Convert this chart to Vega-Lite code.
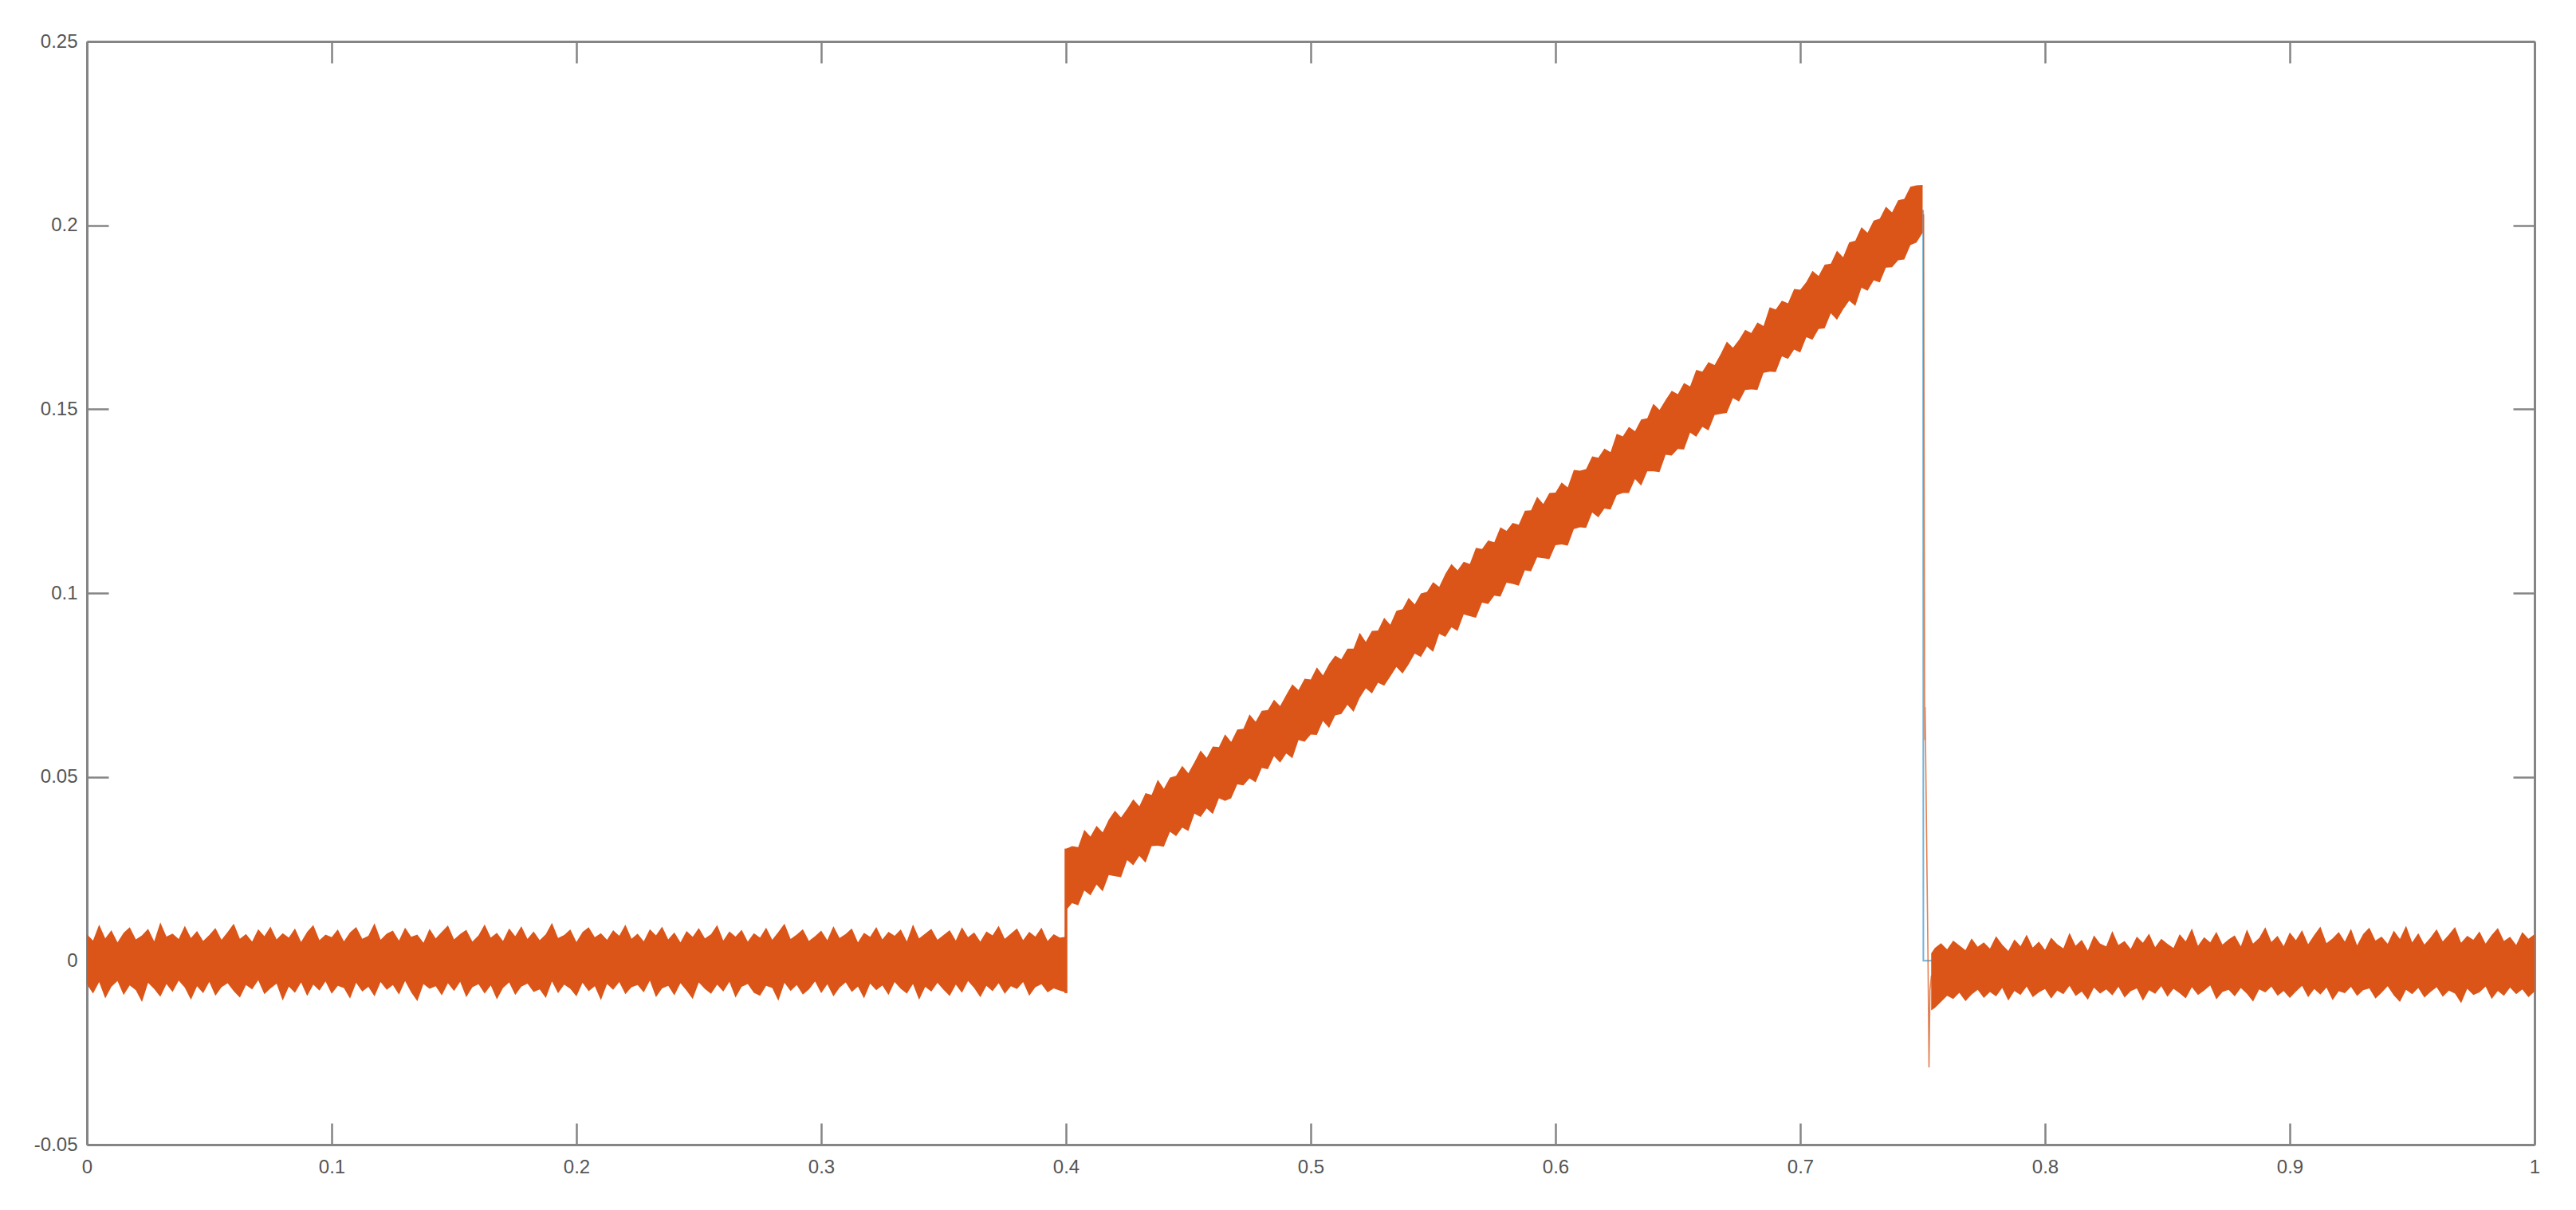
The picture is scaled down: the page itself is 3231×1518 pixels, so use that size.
{
  "$schema": "https://vega.github.io/schema/vega-lite/v6.json",
  "width": 3070,
  "height": 1384,
  "autosize": "none",
  "padding": {"left": 109, "top": 52, "right": 52, "bottom": 82},
  "background": "white",
  "config": {"view": {"stroke": null}},
  "datasets": {
    "clean": [
      {"x": 0, "y": 0}, {"x": 0.3999, "y": 0}, {"x": 0.4001, "y": 0.022}, {"x": 0.425, "y": 0.0334}, {"x": 0.45, "y": 0.045}, {"x": 0.475, "y": 0.0569}, {"x": 0.5, "y": 0.069}, {"x": 0.525, "y": 0.0814}, {"x": 0.55, "y": 0.094}, {"x": 0.575, "y": 0.1069}, {"x": 0.6, "y": 0.12}, {"x": 0.625, "y": 0.1334}, {"x": 0.65, "y": 0.147}, {"x": 0.675, "y": 0.1609}, {"x": 0.7, "y": 0.175}, {"x": 0.725, "y": 0.1894}, {"x": 0.75, "y": 0.204}, {"x": 0.7502, "y": 0.204}, {"x": 0.7503, "y": 0}, {"x": 0.755, "y": 0}, {"x": 1, "y": 0}
    ],
    "jump": [
      {"x": 0.4, "y": -0.0088}, {"x": 0.4, "y": 0.0305}
    ],
    "drop": [
      {"x": 0.7504, "y": 0.203}, {"x": 0.7508, "y": 0.072}, {"x": 0.7509, "y": 0.06}, {"x": 0.751, "y": 0.069}, {"x": 0.7512, "y": 0.058}, {"x": 0.7522, "y": 0.0}, {"x": 0.7526, "y": -0.029}, {"x": 0.753, "y": -0.008}, {"x": 0.7536, "y": -0.004}
    ],
    "band": [
      {"seg": "a", "x": 0, "lo": -0.0064, "hi": 0.0072}, {"seg": "a", "x": 0.0025, "lo": -0.0089, "hi": 0.0055}, {"seg": "a", "x": 0.005, "lo": -0.0058, "hi": 0.0098}, {"seg": "a", "x": 0.0075, "lo": -0.0102, "hi": 0.0061}, {"seg": "a", "x": 0.01, "lo": -0.0071, "hi": 0.0083}, {"seg": "a", "x": 0.0125, "lo": -0.0055, "hi": 0.005}, {"seg": "a", "x": 0.015, "lo": -0.0093, "hi": 0.0076}, {"seg": "a", "x": 0.0175, "lo": -0.0067, "hi": 0.0091}, {"seg": "a", "x": 0.02, "lo": -0.008, "hi": 0.0058}, {"seg": "a", "x": 0.0225, "lo": -0.0112, "hi": 0.0069},
      {"seg": "a", "x": 0.025, "lo": -0.006, "hi": 0.0087}, {"seg": "a", "x": 0.0275, "lo": -0.0077, "hi": 0.0053}, {"seg": "a", "x": 0.03, "lo": -0.0098, "hi": 0.0104}, {"seg": "a", "x": 0.0325, "lo": -0.0063, "hi": 0.0066}, {"seg": "a", "x": 0.035, "lo": -0.0085, "hi": 0.0074}, {"seg": "a", "x": 0.0375, "lo": -0.0054, "hi": 0.0059}, {"seg": "a", "x": 0.04, "lo": -0.0073, "hi": 0.0095}, {"seg": "a", "x": 0.0425, "lo": -0.0106, "hi": 0.0062}, {"seg": "a", "x": 0.045, "lo": -0.0069, "hi": 0.0081}, {"seg": "a", "x": 0.0475, "lo": -0.0088, "hi": 0.0054},
      {"seg": "a", "x": 0.05, "lo": -0.0057, "hi": 0.007}, {"seg": "a", "x": 0.0525, "lo": -0.0095, "hi": 0.0089}, {"seg": "a", "x": 0.055, "lo": -0.0072, "hi": 0.0057}, {"seg": "a", "x": 0.0575, "lo": -0.0061, "hi": 0.0078}, {"seg": "a", "x": 0.06, "lo": -0.0083, "hi": 0.0101}, {"seg": "a", "x": 0.0625, "lo": -0.01, "hi": 0.006}, {"seg": "a", "x": 0.065, "lo": -0.0066, "hi": 0.0073}, {"seg": "a", "x": 0.0675, "lo": -0.0078, "hi": 0.0052}, {"seg": "a", "x": 0.07, "lo": -0.0053, "hi": 0.0086}, {"seg": "a", "x": 0.0725, "lo": -0.0091, "hi": 0.0067},
      {"seg": "a", "x": 0.075, "lo": -0.0075, "hi": 0.0093}, {"seg": "a", "x": 0.0775, "lo": -0.0062, "hi": 0.0058}, {"seg": "a", "x": 0.08, "lo": -0.0108, "hi": 0.0075}, {"seg": "a", "x": 0.0825, "lo": -0.007, "hi": 0.0063}, {"seg": "a", "x": 0.085, "lo": -0.0087, "hi": 0.0088}, {"seg": "a", "x": 0.0875, "lo": -0.0059, "hi": 0.0051}, {"seg": "a", "x": 0.09, "lo": -0.0096, "hi": 0.0079}, {"seg": "a", "x": 0.0925, "lo": -0.0065, "hi": 0.0097}, {"seg": "a", "x": 0.095, "lo": -0.0081, "hi": 0.0056}, {"seg": "a", "x": 0.0975, "lo": -0.0056, "hi": 0.0071},
      {"seg": "a", "x": 0.1, "lo": -0.009, "hi": 0.0064}, {"seg": "a", "x": 0.1025, "lo": -0.0068, "hi": 0.0085}, {"seg": "a", "x": 0.105, "lo": -0.0074, "hi": 0.0053}, {"seg": "a", "x": 0.1075, "lo": -0.0103, "hi": 0.0077}, {"seg": "a", "x": 0.11, "lo": -0.006, "hi": 0.0092}, {"seg": "a", "x": 0.1125, "lo": -0.0084, "hi": 0.006}, {"seg": "a", "x": 0.115, "lo": -0.0071, "hi": 0.0068}, {"seg": "a", "x": 0.1175, "lo": -0.0097, "hi": 0.0102}, {"seg": "a", "x": 0.12, "lo": -0.0058, "hi": 0.0057}, {"seg": "a", "x": 0.1225, "lo": -0.0079, "hi": 0.0074},
      {"seg": "a", "x": 0.125, "lo": -0.0066, "hi": 0.0082}, {"seg": "a", "x": 0.1275, "lo": -0.0092, "hi": 0.0055}, {"seg": "a", "x": 0.13, "lo": -0.0055, "hi": 0.009}, {"seg": "a", "x": 0.1325, "lo": -0.0086, "hi": 0.0065}, {"seg": "a", "x": 0.135, "lo": -0.011, "hi": 0.0071}, {"seg": "a", "x": 0.1375, "lo": -0.0063, "hi": 0.0049}, {"seg": "a", "x": 0.14, "lo": -0.0076, "hi": 0.0087}, {"seg": "a", "x": 0.1425, "lo": -0.0069, "hi": 0.0061}, {"seg": "a", "x": 0.145, "lo": -0.0094, "hi": 0.0079}, {"seg": "a", "x": 0.1475, "lo": -0.0061, "hi": 0.0096},
      {"seg": "a", "x": 0.15, "lo": -0.0082, "hi": 0.0058}, {"seg": "a", "x": 0.1525, "lo": -0.0057, "hi": 0.0073}, {"seg": "a", "x": 0.155, "lo": -0.0099, "hi": 0.0084}, {"seg": "a", "x": 0.1575, "lo": -0.0072, "hi": 0.0052}, {"seg": "a", "x": 0.16, "lo": -0.0064, "hi": 0.0069}, {"seg": "a", "x": 0.1625, "lo": -0.0089, "hi": 0.0099}, {"seg": "a", "x": 0.165, "lo": -0.0067, "hi": 0.0063}, {"seg": "a", "x": 0.1675, "lo": -0.0105, "hi": 0.0076}, {"seg": "a", "x": 0.17, "lo": -0.0074, "hi": 0.0054}, {"seg": "a", "x": 0.1725, "lo": -0.0059, "hi": 0.0088},
      {"seg": "a", "x": 0.175, "lo": -0.0093, "hi": 0.0067}, {"seg": "a", "x": 0.1775, "lo": -0.007, "hi": 0.0094}, {"seg": "a", "x": 0.18, "lo": -0.0062, "hi": 0.0059}, {"seg": "a", "x": 0.1825, "lo": -0.0085, "hi": 0.008}, {"seg": "a", "x": 0.185, "lo": -0.0078, "hi": 0.0056}, {"seg": "a", "x": 0.1875, "lo": -0.0101, "hi": 0.0072}, {"seg": "a", "x": 0.19, "lo": -0.0056, "hi": 0.0103}, {"seg": "a", "x": 0.1925, "lo": -0.0088, "hi": 0.0062}, {"seg": "a", "x": 0.195, "lo": -0.0065, "hi": 0.007}, {"seg": "a", "x": 0.1975, "lo": -0.0076, "hi": 0.0085},
      {"seg": "a", "x": 0.2, "lo": -0.0097, "hi": 0.0051}, {"seg": "a", "x": 0.2025, "lo": -0.006, "hi": 0.0078}, {"seg": "a", "x": 0.205, "lo": -0.0083, "hi": 0.0091}, {"seg": "a", "x": 0.2075, "lo": -0.0069, "hi": 0.0064}, {"seg": "a", "x": 0.21, "lo": -0.0107, "hi": 0.0075}, {"seg": "a", "x": 0.2125, "lo": -0.0063, "hi": 0.0057}, {"seg": "a", "x": 0.215, "lo": -0.0079, "hi": 0.0083}, {"seg": "a", "x": 0.2175, "lo": -0.0058, "hi": 0.0068}, {"seg": "a", "x": 0.22, "lo": -0.0091, "hi": 0.0098}, {"seg": "a", "x": 0.2225, "lo": -0.0072, "hi": 0.006},
      {"seg": "a", "x": 0.225, "lo": -0.0066, "hi": 0.0074}, {"seg": "a", "x": 0.2275, "lo": -0.0086, "hi": 0.0053}, {"seg": "a", "x": 0.23, "lo": -0.0054, "hi": 0.0086}, {"seg": "a", "x": 0.2325, "lo": -0.0099, "hi": 0.0069}, {"seg": "a", "x": 0.235, "lo": -0.0075, "hi": 0.0093}, {"seg": "a", "x": 0.2375, "lo": -0.0068, "hi": 0.0058}, {"seg": "a", "x": 0.24, "lo": -0.0094, "hi": 0.0077}, {"seg": "a", "x": 0.2425, "lo": -0.0061, "hi": 0.005}, {"seg": "a", "x": 0.245, "lo": -0.0081, "hi": 0.0081}, {"seg": "a", "x": 0.2475, "lo": -0.0104, "hi": 0.0065},
      {"seg": "a", "x": 0.25, "lo": -0.0059, "hi": 0.0089}, {"seg": "a", "x": 0.2525, "lo": -0.0077, "hi": 0.0061}, {"seg": "a", "x": 0.255, "lo": -0.009, "hi": 0.0072}, {"seg": "a", "x": 0.2575, "lo": -0.0065, "hi": 0.0097}, {"seg": "a", "x": 0.26, "lo": -0.0084, "hi": 0.0055}, {"seg": "a", "x": 0.2625, "lo": -0.0057, "hi": 0.008}, {"seg": "a", "x": 0.265, "lo": -0.01, "hi": 0.0066}, {"seg": "a", "x": 0.2675, "lo": -0.0071, "hi": 0.0084}, {"seg": "a", "x": 0.27, "lo": -0.0063, "hi": 0.0052}, {"seg": "a", "x": 0.2725, "lo": -0.0087, "hi": 0.0075},
      {"seg": "a", "x": 0.275, "lo": -0.0095, "hi": 0.0063}, {"seg": "a", "x": 0.2775, "lo": -0.0068, "hi": 0.009}, {"seg": "a", "x": 0.28, "lo": -0.0074, "hi": 0.0057}, {"seg": "a", "x": 0.2825, "lo": -0.0109, "hi": 0.0078}, {"seg": "a", "x": 0.285, "lo": -0.006, "hi": 0.0101}, {"seg": "a", "x": 0.2875, "lo": -0.0082, "hi": 0.0059}, {"seg": "a", "x": 0.29, "lo": -0.0066, "hi": 0.0071}, {"seg": "a", "x": 0.2925, "lo": -0.0092, "hi": 0.0086}, {"seg": "a", "x": 0.295, "lo": -0.0078, "hi": 0.0054}, {"seg": "a", "x": 0.2975, "lo": -0.0056, "hi": 0.0067},
      {"seg": "a", "x": 0.3, "lo": -0.0088, "hi": 0.0082}, {"seg": "a", "x": 0.3025, "lo": -0.0064, "hi": 0.0056}, {"seg": "a", "x": 0.305, "lo": -0.0097, "hi": 0.0094}, {"seg": "a", "x": 0.3075, "lo": -0.0073, "hi": 0.0062}, {"seg": "a", "x": 0.31, "lo": -0.0059, "hi": 0.0073}, {"seg": "a", "x": 0.3125, "lo": -0.0085, "hi": 0.0088}, {"seg": "a", "x": 0.315, "lo": -0.007, "hi": 0.005}, {"seg": "a", "x": 0.3175, "lo": -0.0102, "hi": 0.0076}, {"seg": "a", "x": 0.32, "lo": -0.0062, "hi": 0.0065}, {"seg": "a", "x": 0.3225, "lo": -0.008, "hi": 0.0092},
      {"seg": "a", "x": 0.325, "lo": -0.0067, "hi": 0.0058}, {"seg": "a", "x": 0.3275, "lo": -0.0093, "hi": 0.0079}, {"seg": "a", "x": 0.33, "lo": -0.0058, "hi": 0.0068}, {"seg": "a", "x": 0.3325, "lo": -0.0076, "hi": 0.0085}, {"seg": "a", "x": 0.335, "lo": -0.0089, "hi": 0.0053}, {"seg": "a", "x": 0.3375, "lo": -0.0063, "hi": 0.0099}, {"seg": "a", "x": 0.34, "lo": -0.0106, "hi": 0.0061}, {"seg": "a", "x": 0.3425, "lo": -0.0071, "hi": 0.0074}, {"seg": "a", "x": 0.345, "lo": -0.0084, "hi": 0.0087}, {"seg": "a", "x": 0.3475, "lo": -0.006, "hi": 0.0057},
      {"seg": "a", "x": 0.35, "lo": -0.0079, "hi": 0.007}, {"seg": "a", "x": 0.3525, "lo": -0.0096, "hi": 0.0083}, {"seg": "a", "x": 0.355, "lo": -0.0065, "hi": 0.0055}, {"seg": "a", "x": 0.3575, "lo": -0.0087, "hi": 0.0091}, {"seg": "a", "x": 0.36, "lo": -0.0055, "hi": 0.0064}, {"seg": "a", "x": 0.3625, "lo": -0.0074, "hi": 0.0077}, {"seg": "a", "x": 0.365, "lo": -0.0099, "hi": 0.0052}, {"seg": "a", "x": 0.3675, "lo": -0.0068, "hi": 0.008}, {"seg": "a", "x": 0.37, "lo": -0.0083, "hi": 0.0069}, {"seg": "a", "x": 0.3725, "lo": -0.0061, "hi": 0.0095},
      {"seg": "a", "x": 0.375, "lo": -0.009, "hi": 0.006}, {"seg": "a", "x": 0.3775, "lo": -0.0069, "hi": 0.0074}, {"seg": "a", "x": 0.38, "lo": -0.0077, "hi": 0.0088}, {"seg": "a", "x": 0.3825, "lo": -0.0058, "hi": 0.0056}, {"seg": "a", "x": 0.385, "lo": -0.0095, "hi": 0.0079}, {"seg": "a", "x": 0.3875, "lo": -0.0072, "hi": 0.0066}, {"seg": "a", "x": 0.39, "lo": -0.0064, "hi": 0.009}, {"seg": "a", "x": 0.3925, "lo": -0.0086, "hi": 0.0054}, {"seg": "a", "x": 0.395, "lo": -0.0075, "hi": 0.0072}, {"seg": "a", "x": 0.3975, "lo": -0.0081, "hi": 0.0063},
      {"seg": "a", "x": 0.3999, "lo": -0.0086, "hi": 0.0065}, {"seg": "a", "x": 0.4001, "lo": 0.0138, "hi": 0.0305},
      {"seg": "a", "x": 0.4025, "lo": 0.0157, "hi": 0.0312}, {"seg": "a", "x": 0.405, "lo": 0.0151, "hi": 0.0309}, {"seg": "a", "x": 0.4075, "lo": 0.0191, "hi": 0.0356}, {"seg": "a", "x": 0.41, "lo": 0.0178, "hi": 0.0338}, {"seg": "a", "x": 0.4125, "lo": 0.0207, "hi": 0.0367}, {"seg": "a", "x": 0.415, "lo": 0.0189, "hi": 0.0349}, {"seg": "a", "x": 0.4175, "lo": 0.0233, "hi": 0.0384}, {"seg": "a", "x": 0.42, "lo": 0.023, "hi": 0.0408}, {"seg": "a", "x": 0.4225, "lo": 0.0227, "hi": 0.039}, {"seg": "a", "x": 0.425, "lo": 0.0274, "hi": 0.0413},
      {"seg": "a", "x": 0.4275, "lo": 0.026, "hi": 0.0439}, {"seg": "a", "x": 0.43, "lo": 0.0285, "hi": 0.042}, {"seg": "a", "x": 0.4325, "lo": 0.0267, "hi": 0.0456}, {"seg": "a", "x": 0.435, "lo": 0.0312, "hi": 0.0451}, {"seg": "a", "x": 0.4375, "lo": 0.0313, "hi": 0.0492}, {"seg": "a", "x": 0.44, "lo": 0.031, "hi": 0.0468}, {"seg": "a", "x": 0.4425, "lo": 0.0351, "hi": 0.0498}, {"seg": "a", "x": 0.445, "lo": 0.0339, "hi": 0.0503}, {"seg": "a", "x": 0.4475, "lo": 0.0362, "hi": 0.053}, {"seg": "a", "x": 0.45, "lo": 0.0353, "hi": 0.051},
      {"seg": "a", "x": 0.4525, "lo": 0.04, "hi": 0.054}, {"seg": "a", "x": 0.455, "lo": 0.0391, "hi": 0.0572}, {"seg": "a", "x": 0.4575, "lo": 0.0414, "hi": 0.0552}, {"seg": "a", "x": 0.46, "lo": 0.0399, "hi": 0.0583}, {"seg": "a", "x": 0.4625, "lo": 0.0442, "hi": 0.0581}, {"seg": "a", "x": 0.465, "lo": 0.0435, "hi": 0.0616}, {"seg": "a", "x": 0.4675, "lo": 0.0442, "hi": 0.0595}, {"seg": "a", "x": 0.47, "lo": 0.048, "hi": 0.0629}, {"seg": "a", "x": 0.4725, "lo": 0.0477, "hi": 0.0631}, {"seg": "a", "x": 0.475, "lo": 0.0496, "hi": 0.067},
      {"seg": "a", "x": 0.4775, "lo": 0.0485, "hi": 0.065}, {"seg": "a", "x": 0.48, "lo": 0.0524, "hi": 0.068}, {"seg": "a", "x": 0.4825, "lo": 0.0521, "hi": 0.0682}, {"seg": "a", "x": 0.485, "lo": 0.0556, "hi": 0.071}, {"seg": "a", "x": 0.4875, "lo": 0.0539, "hi": 0.0693}, {"seg": "a", "x": 0.49, "lo": 0.0564, "hi": 0.0723}, {"seg": "a", "x": 0.4925, "lo": 0.0551, "hi": 0.0752}, {"seg": "a", "x": 0.495, "lo": 0.06, "hi": 0.0736}, {"seg": "a", "x": 0.4975, "lo": 0.0596, "hi": 0.0767}, {"seg": "a", "x": 0.5, "lo": 0.0615, "hi": 0.0765},
      {"seg": "a", "x": 0.5025, "lo": 0.0614, "hi": 0.0798}, {"seg": "a", "x": 0.505, "lo": 0.0652, "hi": 0.0776}, {"seg": "a", "x": 0.5075, "lo": 0.0633, "hi": 0.0807}, {"seg": "a", "x": 0.51, "lo": 0.0667, "hi": 0.083}, {"seg": "a", "x": 0.5125, "lo": 0.0671, "hi": 0.082}, {"seg": "a", "x": 0.515, "lo": 0.0696, "hi": 0.0849}, {"seg": "a", "x": 0.5175, "lo": 0.0677, "hi": 0.0849}, {"seg": "a", "x": 0.52, "lo": 0.0715, "hi": 0.0892}, {"seg": "a", "x": 0.5225, "lo": 0.0741, "hi": 0.0867}, {"seg": "a", "x": 0.525, "lo": 0.0727, "hi": 0.0897},
      {"seg": "a", "x": 0.5275, "lo": 0.0756, "hi": 0.0898}, {"seg": "a", "x": 0.53, "lo": 0.0748, "hi": 0.0933}, {"seg": "a", "x": 0.5325, "lo": 0.0773, "hi": 0.0914}, {"seg": "a", "x": 0.535, "lo": 0.0799, "hi": 0.0952}, {"seg": "a", "x": 0.5375, "lo": 0.0781, "hi": 0.0956}, {"seg": "a", "x": 0.54, "lo": 0.0806, "hi": 0.0987}, {"seg": "a", "x": 0.5425, "lo": 0.0835, "hi": 0.0969}, {"seg": "a", "x": 0.545, "lo": 0.0826, "hi": 0.0999}, {"seg": "a", "x": 0.5475, "lo": 0.0854, "hi": 0.1003}, {"seg": "a", "x": 0.55, "lo": 0.084, "hi": 0.103},
      {"seg": "a", "x": 0.5525, "lo": 0.0889, "hi": 0.1017}, {"seg": "a", "x": 0.555, "lo": 0.0881, "hi": 0.1052}, {"seg": "a", "x": 0.5575, "lo": 0.0907, "hi": 0.1079}, {"seg": "a", "x": 0.56, "lo": 0.0897, "hi": 0.1062}, {"seg": "a", "x": 0.5625, "lo": 0.0942, "hi": 0.1085}, {"seg": "a", "x": 0.565, "lo": 0.0937, "hi": 0.1079}, {"seg": "a", "x": 0.5675, "lo": 0.0933, "hi": 0.1123}, {"seg": "a", "x": 0.57, "lo": 0.0974, "hi": 0.112}, {"seg": "a", "x": 0.5725, "lo": 0.097, "hi": 0.1143}, {"seg": "a", "x": 0.575, "lo": 0.0993, "hi": 0.1138},
      {"seg": "a", "x": 0.5775, "lo": 0.099, "hi": 0.1179}, {"seg": "a", "x": 0.58, "lo": 0.1028, "hi": 0.1169}, {"seg": "a", "x": 0.5825, "lo": 0.1025, "hi": 0.1191}, {"seg": "a", "x": 0.585, "lo": 0.102, "hi": 0.1186}, {"seg": "a", "x": 0.5875, "lo": 0.1062, "hi": 0.1224}, {"seg": "a", "x": 0.59, "lo": 0.1059, "hi": 0.1225}, {"seg": "a", "x": 0.5925, "lo": 0.1097, "hi": 0.1262}, {"seg": "a", "x": 0.595, "lo": 0.1095, "hi": 0.1242}, {"seg": "a", "x": 0.5975, "lo": 0.1092, "hi": 0.1272}, {"seg": "a", "x": 0.6, "lo": 0.113, "hi": 0.1273},
      {"seg": "a", "x": 0.6025, "lo": 0.1132, "hi": 0.1301}, {"seg": "a", "x": 0.605, "lo": 0.1129, "hi": 0.1287}, {"seg": "a", "x": 0.6075, "lo": 0.1174, "hi": 0.1335}, {"seg": "a", "x": 0.61, "lo": 0.1179, "hi": 0.1333}, {"seg": "a", "x": 0.6125, "lo": 0.1177, "hi": 0.1337}, {"seg": "a", "x": 0.615, "lo": 0.1219, "hi": 0.1372}, {"seg": "a", "x": 0.6175, "lo": 0.1206, "hi": 0.1368}, {"seg": "a", "x": 0.62, "lo": 0.123, "hi": 0.1393}, {"seg": "a", "x": 0.6225, "lo": 0.1227, "hi": 0.1383}, {"seg": "a", "x": 0.625, "lo": 0.1266, "hi": 0.1433},
      {"seg": "a", "x": 0.6275, "lo": 0.1272, "hi": 0.1426}, {"seg": "a", "x": 0.63, "lo": 0.1272, "hi": 0.1452}, {"seg": "a", "x": 0.6325, "lo": 0.131, "hi": 0.144}, {"seg": "a", "x": 0.635, "lo": 0.1292, "hi": 0.1472}, {"seg": "a", "x": 0.6375, "lo": 0.1331, "hi": 0.1475}, {"seg": "a", "x": 0.64, "lo": 0.1331, "hi": 0.1515}, {"seg": "a", "x": 0.6425, "lo": 0.1329, "hi": 0.1498}, {"seg": "a", "x": 0.645, "lo": 0.1376, "hi": 0.1525}, {"seg": "a", "x": 0.6475, "lo": 0.1374, "hi": 0.155}, {"seg": "a", "x": 0.65, "lo": 0.1392, "hi": 0.1541},
      {"seg": "a", "x": 0.6525, "lo": 0.139, "hi": 0.1571}, {"seg": "a", "x": 0.655, "lo": 0.1436, "hi": 0.1562}, {"seg": "a", "x": 0.6575, "lo": 0.1425, "hi": 0.1607}, {"seg": "a", "x": 0.66, "lo": 0.1452, "hi": 0.1602}, {"seg": "a", "x": 0.6625, "lo": 0.1442, "hi": 0.1628}, {"seg": "a", "x": 0.665, "lo": 0.1484, "hi": 0.162}, {"seg": "a", "x": 0.6675, "lo": 0.1487, "hi": 0.165}, {"seg": "a", "x": 0.67, "lo": 0.149, "hi": 0.1684}, {"seg": "a", "x": 0.6725, "lo": 0.153, "hi": 0.1667}, {"seg": "a", "x": 0.675, "lo": 0.1521, "hi": 0.1689},
      {"seg": "a", "x": 0.6775, "lo": 0.1552, "hi": 0.1716}, {"seg": "a", "x": 0.68, "lo": 0.1554, "hi": 0.1707}, {"seg": "a", "x": 0.6825, "lo": 0.1552, "hi": 0.1736}, {"seg": "a", "x": 0.685, "lo": 0.1599, "hi": 0.1726}, {"seg": "a", "x": 0.6875, "lo": 0.1602, "hi": 0.1777}, {"seg": "a", "x": 0.69, "lo": 0.1601, "hi": 0.1771}, {"seg": "a", "x": 0.6925, "lo": 0.1644, "hi": 0.1795}, {"seg": "a", "x": 0.695, "lo": 0.1637, "hi": 0.1788}, {"seg": "a", "x": 0.6975, "lo": 0.1662, "hi": 0.1827}, {"seg": "a", "x": 0.7, "lo": 0.1654, "hi": 0.1825},
      {"seg": "a", "x": 0.7025, "lo": 0.1696, "hi": 0.1846}, {"seg": "a", "x": 0.705, "lo": 0.1689, "hi": 0.1876}, {"seg": "a", "x": 0.7075, "lo": 0.1718, "hi": 0.1862}, {"seg": "a", "x": 0.71, "lo": 0.172, "hi": 0.1893}, {"seg": "a", "x": 0.7125, "lo": 0.1761, "hi": 0.1896}, {"seg": "a", "x": 0.715, "lo": 0.1743, "hi": 0.1931}, {"seg": "a", "x": 0.7175, "lo": 0.1771, "hi": 0.1913}, {"seg": "a", "x": 0.72, "lo": 0.1795, "hi": 0.1954}, {"seg": "a", "x": 0.7225, "lo": 0.1781, "hi": 0.1958}, {"seg": "a", "x": 0.725, "lo": 0.183, "hi": 0.1995},
      {"seg": "a", "x": 0.7275, "lo": 0.1822, "hi": 0.198}, {"seg": "a", "x": 0.73, "lo": 0.185, "hi": 0.2013}, {"seg": "a", "x": 0.7325, "lo": 0.1845, "hi": 0.2018}, {"seg": "a", "x": 0.735, "lo": 0.1885, "hi": 0.2051}, {"seg": "a", "x": 0.7375, "lo": 0.1886, "hi": 0.2035}, {"seg": "a", "x": 0.74, "lo": 0.1905, "hi": 0.2068}, {"seg": "a", "x": 0.7425, "lo": 0.1907, "hi": 0.2072}, {"seg": "a", "x": 0.745, "lo": 0.1946, "hi": 0.2105}, {"seg": "a", "x": 0.7475, "lo": 0.1953, "hi": 0.2109}, {"seg": "a", "x": 0.75, "lo": 0.198, "hi": 0.211},
      {"seg": "b", "x": 0.7535, "lo": -0.0135, "hi": 0.002}, {"seg": "b", "x": 0.755, "lo": -0.0128, "hi": 0.0035}, {"seg": "b", "x": 0.7575, "lo": -0.0112, "hi": 0.0048}, {"seg": "b", "x": 0.76, "lo": -0.0095, "hi": 0.0031}, {"seg": "b", "x": 0.7625, "lo": -0.0104, "hi": 0.0055}, {"seg": "b", "x": 0.765, "lo": -0.0087, "hi": 0.0042}, {"seg": "b", "x": 0.7675, "lo": -0.011, "hi": 0.0029}, {"seg": "b", "x": 0.77, "lo": -0.0092, "hi": 0.0061}, {"seg": "b", "x": 0.7725, "lo": -0.0079, "hi": 0.0038}, {"seg": "b", "x": 0.775, "lo": -0.0101, "hi": 0.005},
      {"seg": "b", "x": 0.7775, "lo": -0.0085, "hi": 0.0033}, {"seg": "b", "x": 0.78, "lo": -0.0097, "hi": 0.0067}, {"seg": "b", "x": 0.7825, "lo": -0.0074, "hi": 0.0044}, {"seg": "b", "x": 0.785, "lo": -0.0108, "hi": 0.0027}, {"seg": "b", "x": 0.7875, "lo": -0.0082, "hi": 0.0058}, {"seg": "b", "x": 0.79, "lo": -0.0093, "hi": 0.004}, {"seg": "b", "x": 0.7925, "lo": -0.007, "hi": 0.0071}, {"seg": "b", "x": 0.795, "lo": -0.0099, "hi": 0.0036}, {"seg": "b", "x": 0.7975, "lo": -0.0086, "hi": 0.0052}, {"seg": "b", "x": 0.8, "lo": -0.0077, "hi": 0.003},
      {"seg": "b", "x": 0.8025, "lo": -0.0103, "hi": 0.0063}, {"seg": "b", "x": 0.805, "lo": -0.0081, "hi": 0.0045}, {"seg": "b", "x": 0.8075, "lo": -0.0091, "hi": 0.0034}, {"seg": "b", "x": 0.81, "lo": -0.0068, "hi": 0.0076}, {"seg": "b", "x": 0.8125, "lo": -0.0096, "hi": 0.0041}, {"seg": "b", "x": 0.815, "lo": -0.0084, "hi": 0.0057}, {"seg": "b", "x": 0.8175, "lo": -0.0106, "hi": 0.0028}, {"seg": "b", "x": 0.82, "lo": -0.0073, "hi": 0.0069}, {"seg": "b", "x": 0.8225, "lo": -0.0089, "hi": 0.0047}, {"seg": "b", "x": 0.825, "lo": -0.0078, "hi": 0.0039},
      {"seg": "b", "x": 0.8275, "lo": -0.0094, "hi": 0.0081}, {"seg": "b", "x": 0.83, "lo": -0.0071, "hi": 0.0043}, {"seg": "b", "x": 0.8325, "lo": -0.01, "hi": 0.0054}, {"seg": "b", "x": 0.835, "lo": -0.0083, "hi": 0.0032}, {"seg": "b", "x": 0.8375, "lo": -0.0075, "hi": 0.0066}, {"seg": "b", "x": 0.84, "lo": -0.0109, "hi": 0.0049}, {"seg": "b", "x": 0.8425, "lo": -0.008, "hi": 0.0074}, {"seg": "b", "x": 0.845, "lo": -0.009, "hi": 0.0037}, {"seg": "b", "x": 0.8475, "lo": -0.0069, "hi": 0.006}, {"seg": "b", "x": 0.85, "lo": -0.0098, "hi": 0.0046},
      {"seg": "b", "x": 0.8525, "lo": -0.0076, "hi": 0.0035}, {"seg": "b", "x": 0.855, "lo": -0.0088, "hi": 0.0072}, {"seg": "b", "x": 0.8575, "lo": -0.0102, "hi": 0.0053}, {"seg": "b", "x": 0.86, "lo": -0.0072, "hi": 0.0088}, {"seg": "b", "x": 0.8625, "lo": -0.0093, "hi": 0.0041}, {"seg": "b", "x": 0.865, "lo": -0.0081, "hi": 0.0064}, {"seg": "b", "x": 0.8675, "lo": -0.0067, "hi": 0.005}, {"seg": "b", "x": 0.87, "lo": -0.0105, "hi": 0.0079}, {"seg": "b", "x": 0.8725, "lo": -0.0085, "hi": 0.0044}, {"seg": "b", "x": 0.875, "lo": -0.0079, "hi": 0.0058},
      {"seg": "b", "x": 0.8775, "lo": -0.0097, "hi": 0.0069}, {"seg": "b", "x": 0.88, "lo": -0.0074, "hi": 0.0039}, {"seg": "b", "x": 0.8825, "lo": -0.009, "hi": 0.0085}, {"seg": "b", "x": 0.885, "lo": -0.0111, "hi": 0.0047}, {"seg": "b", "x": 0.8875, "lo": -0.0078, "hi": 0.0062}, {"seg": "b", "x": 0.89, "lo": -0.0086, "hi": 0.0091}, {"seg": "b", "x": 0.8925, "lo": -0.007, "hi": 0.0051}, {"seg": "b", "x": 0.895, "lo": -0.0095, "hi": 0.0068}, {"seg": "b", "x": 0.8975, "lo": -0.0082, "hi": 0.004}, {"seg": "b", "x": 0.9, "lo": -0.0101, "hi": 0.0077},
      {"seg": "b", "x": 0.9025, "lo": -0.0084, "hi": 0.0056}, {"seg": "b", "x": 0.905, "lo": -0.0068, "hi": 0.0083}, {"seg": "b", "x": 0.9075, "lo": -0.0099, "hi": 0.0045}, {"seg": "b", "x": 0.91, "lo": -0.0077, "hi": 0.007}, {"seg": "b", "x": 0.9125, "lo": -0.0092, "hi": 0.0093}, {"seg": "b", "x": 0.915, "lo": -0.0073, "hi": 0.0048}, {"seg": "b", "x": 0.9175, "lo": -0.0107, "hi": 0.0061}, {"seg": "b", "x": 0.92, "lo": -0.0083, "hi": 0.0078}, {"seg": "b", "x": 0.9225, "lo": -0.0088, "hi": 0.0052}, {"seg": "b", "x": 0.925, "lo": -0.0071, "hi": 0.0087},
      {"seg": "b", "x": 0.9275, "lo": -0.0096, "hi": 0.0042}, {"seg": "b", "x": 0.93, "lo": -0.008, "hi": 0.0073}, {"seg": "b", "x": 0.9325, "lo": -0.0075, "hi": 0.009}, {"seg": "b", "x": 0.935, "lo": -0.0103, "hi": 0.0055}, {"seg": "b", "x": 0.9375, "lo": -0.0087, "hi": 0.0066}, {"seg": "b", "x": 0.94, "lo": -0.0069, "hi": 0.0046}, {"seg": "b", "x": 0.9425, "lo": -0.0094, "hi": 0.0082}, {"seg": "b", "x": 0.945, "lo": -0.0112, "hi": 0.0059}, {"seg": "b", "x": 0.9475, "lo": -0.0079, "hi": 0.0095}, {"seg": "b", "x": 0.95, "lo": -0.0091, "hi": 0.005},
      {"seg": "b", "x": 0.9525, "lo": -0.0074, "hi": 0.0075}, {"seg": "b", "x": 0.955, "lo": -0.01, "hi": 0.0044}, {"seg": "b", "x": 0.9575, "lo": -0.0085, "hi": 0.0063}, {"seg": "b", "x": 0.96, "lo": -0.0072, "hi": 0.0086}, {"seg": "b", "x": 0.9625, "lo": -0.0098, "hi": 0.0053}, {"seg": "b", "x": 0.965, "lo": -0.0081, "hi": 0.0071}, {"seg": "b", "x": 0.9675, "lo": -0.0089, "hi": 0.0092}, {"seg": "b", "x": 0.97, "lo": -0.0115, "hi": 0.0049}, {"seg": "b", "x": 0.9725, "lo": -0.0076, "hi": 0.0068}, {"seg": "b", "x": 0.975, "lo": -0.0093, "hi": 0.0057},
      {"seg": "b", "x": 0.9775, "lo": -0.0086, "hi": 0.008}, {"seg": "b", "x": 0.98, "lo": -0.007, "hi": 0.0047}, {"seg": "b", "x": 0.9825, "lo": -0.0104, "hi": 0.007}, {"seg": "b", "x": 0.985, "lo": -0.0082, "hi": 0.0089}, {"seg": "b", "x": 0.9875, "lo": -0.0095, "hi": 0.0054}, {"seg": "b", "x": 0.99, "lo": -0.0073, "hi": 0.0065}, {"seg": "b", "x": 0.9925, "lo": -0.0091, "hi": 0.0043}, {"seg": "b", "x": 0.995, "lo": -0.0078, "hi": 0.0078}, {"seg": "b", "x": 0.9975, "lo": -0.0099, "hi": 0.006}, {"seg": "b", "x": 1, "lo": -0.0084, "hi": 0.0072}
    ]
  },
  "layer": [
    {
      "data": {"name": "clean"},
      "mark": {"type": "line", "color": "#6fb3dc", "strokeWidth": 2, "clip": true},
      "encoding": {
        "x": {"field": "x", "type": "quantitative", "scale": {"domain": [0, 1], "nice": false, "zero": false},
          "axis": {"orient": "bottom", "values": [0, 0.1, 0.2, 0.3, 0.4, 0.5, 0.6, 0.7, 0.8, 0.9, 1], "labelExpr": "'' + datum.value", "title": null, "grid": false, "tickSize": -27, "tickWidth": 2.5, "tickColor": "#858585", "domainColor": "#858585", "domainWidth": 3, "labelPadding": 43, "labelFont": "Liberation Sans", "labelFontSize": 24, "labelColor": "#555555", "labelFlush": false, "labelOverlap": false}},
        "y": {"field": "y", "type": "quantitative", "scale": {"domain": [-0.05, 0.25], "nice": false, "zero": false},
          "axis": {"orient": "left", "values": [-0.05, 0, 0.05, 0.1, 0.15, 0.2, 0.25], "labelExpr": "'' + datum.value", "title": null, "grid": false, "tickSize": -27, "tickWidth": 2.5, "tickColor": "#858585", "domainColor": "#858585", "domainWidth": 3, "labelPadding": 39, "labelFont": "Liberation Sans", "labelFontSize": 24, "labelColor": "#555555", "labelFlush": false, "labelOverlap": false}}
      }
    },
    {
      "data": {"name": "band"},
      "mark": {"type": "area", "color": "#DB5518", "opacity": 1, "clip": true},
      "encoding": {
        "x": {"field": "x", "type": "quantitative", "scale": {"domain": [0, 1], "nice": false, "zero": false},
          "axis": {"orient": "top", "values": [0, 0.1, 0.2, 0.3, 0.4, 0.5, 0.6, 0.7, 0.8, 0.9, 1], "labels": false, "title": null, "grid": false, "tickSize": -27, "tickWidth": 2.5, "tickColor": "#858585", "domainColor": "#858585", "domainWidth": 3}},
        "y": {"field": "hi", "type": "quantitative", "scale": {"domain": [-0.05, 0.25], "nice": false, "zero": false},
          "axis": {"orient": "right", "values": [-0.05, 0, 0.05, 0.1, 0.15, 0.2, 0.25], "labels": false, "title": null, "grid": false, "tickSize": -27, "tickWidth": 2.5, "tickColor": "#858585", "domainColor": "#858585", "domainWidth": 3}},
        "y2": {"field": "lo"},
        "detail": {"field": "seg", "type": "nominal"}
      }
    },
    {
      "data": {"name": "jump"},
      "mark": {"type": "line", "color": "#DB5518", "strokeWidth": 3.5, "clip": true},
      "encoding": {
        "x": {"field": "x", "type": "quantitative", "scale": {"domain": [0, 1], "nice": false, "zero": false}, "axis": null},
        "y": {"field": "y", "type": "quantitative", "scale": {"domain": [-0.05, 0.25], "nice": false, "zero": false}, "axis": null}
      }
    },
    {
      "data": {"name": "drop"},
      "mark": {"type": "line", "color": "#DB5518", "strokeWidth": 1.6, "opacity": 0.75, "clip": true},
      "encoding": {
        "x": {"field": "x", "type": "quantitative", "scale": {"domain": [0, 1], "nice": false, "zero": false}, "axis": null},
        "y": {"field": "y", "type": "quantitative", "scale": {"domain": [-0.05, 0.25], "nice": false, "zero": false}, "axis": null}
      }
    }
  ],
  "resolve": {"axis": {"x": "independent", "y": "independent"}}
}
